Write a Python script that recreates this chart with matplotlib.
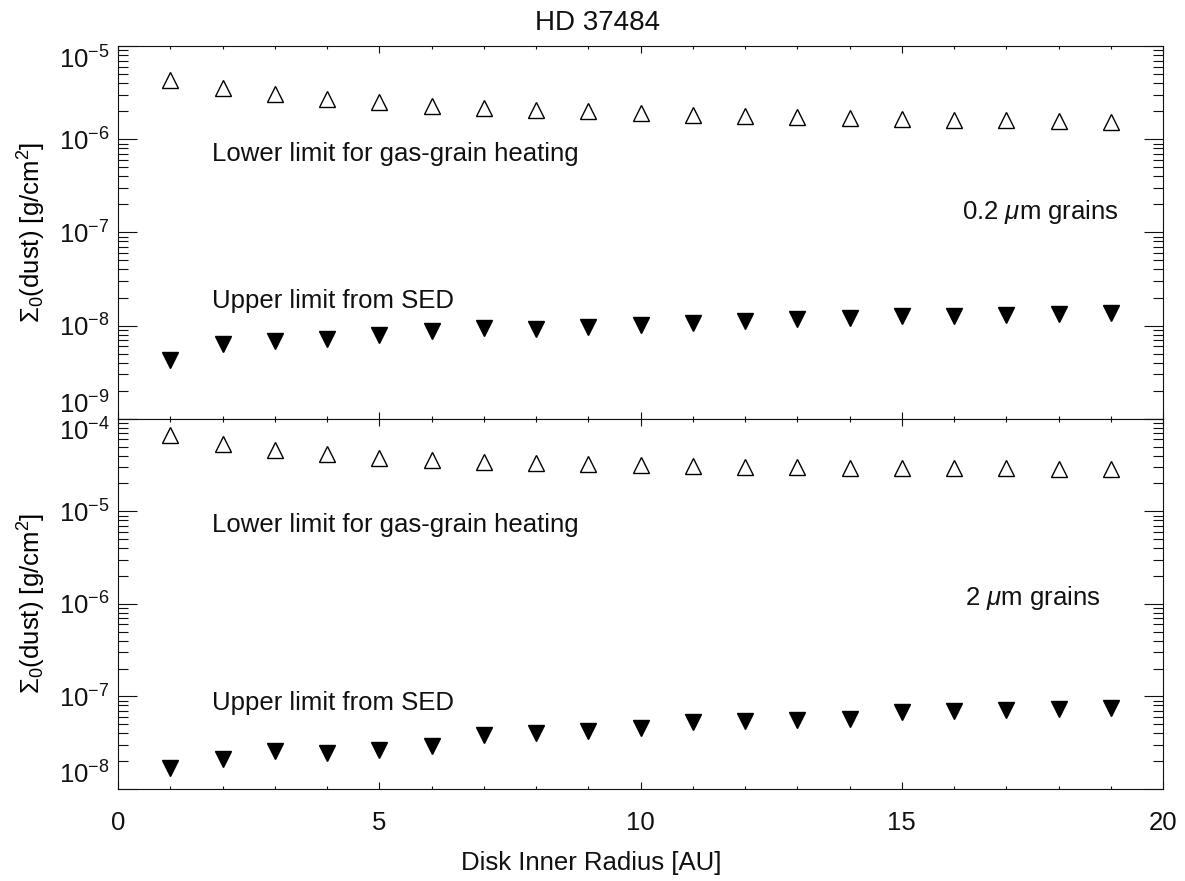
"""HD 37484: dust surface density limits vs disk inner radius."""
import matplotlib
matplotlib.use("Agg")
import matplotlib.pyplot as plt
import numpy as np
from matplotlib.ticker import FixedLocator, LogLocator, MultipleLocator, NullFormatter

plt.rcParams.update({
    "font.family": ["Liberation Sans", "DejaVu Sans"],
    "mathtext.fontset": "custom",
    "mathtext.rm": "Liberation Sans",
    "mathtext.it": "Liberation Sans:italic",
    "mathtext.bf": "Liberation Sans:bold",
    "text.color": "#111111",
})

# ---------------------------------------------------------------------------
# Data
# ---------------------------------------------------------------------------
radius_au = [1, 2, 3, 4, 5, 6, 7, 8, 9, 10, 11, 12, 13, 14, 15, 16, 17, 18, 19]

# 0.2 micron grains
lower_02um = [4.34e-6, 3.53e-6, 3.05e-6, 2.71e-6, 2.50e-6, 2.30e-6, 2.19e-6,
              2.05e-6, 1.99e-6, 1.90e-6, 1.84e-6, 1.78e-6, 1.72e-6, 1.68e-6,
              1.65e-6, 1.61e-6, 1.59e-6, 1.56e-6, 1.55e-6]
upper_02um = [4.29e-9, 6.28e-9, 6.81e-9, 7.25e-9, 8.0e-9, 8.84e-9, 9.5e-9,
              9.3e-9, 9.6e-9, 1.02e-8, 1.06e-8, 1.11e-8, 1.18e-8, 1.22e-8,
              1.26e-8, 1.26e-8, 1.30e-8, 1.34e-8, 1.38e-8]

# 2 micron grains
lower_2um = [6.72e-5, 5.31e-5, 4.56e-5, 4.14e-5, 3.81e-5, 3.61e-5, 3.45e-5,
             3.31e-5, 3.22e-5, 3.14e-5, 3.07e-5, 3.01e-5, 2.98e-5, 2.95e-5,
             2.92e-5, 2.92e-5, 2.92e-5, 2.89e-5, 2.90e-5]
upper_2um = [1.69e-8, 2.09e-8, 2.55e-8, 2.48e-8, 2.66e-8, 2.88e-8, 3.79e-8,
             4.06e-8, 4.27e-8, 4.51e-8, 5.30e-8, 5.40e-8, 5.56e-8, 5.74e-8,
             6.81e-8, 7.02e-8, 7.19e-8, 7.31e-8, 7.50e-8]

YLIM_TOP = (1e-9, 1e-5)
YLIM_BOT = (1e-8, 1e-4)
YLABEL = r"$\Sigma_0$(dust) [g/cm$^2$]"
FS = 18.5


def style_panel(ax, ylim, show_xlabels):
    ax.set_xlim(0, 20)
    ax.set_yscale("log")
    ax.set_ylim(*ylim)
    lo, hi = np.log10(ylim)
    ax.yaxis.set_major_locator(FixedLocator(10.0 ** np.arange(lo, hi + 1)))
    ax.yaxis.set_minor_locator(LogLocator(base=10, subs=np.arange(2, 10), numticks=20))
    ax.yaxis.set_minor_formatter(NullFormatter())
    ax.xaxis.set_major_locator(MultipleLocator(5))
    ax.xaxis.set_minor_locator(MultipleLocator(1))

    ax.tick_params(axis="both", which="both", direction="in",
                   top=True, right=True, width=0.8, colors="#111111",
                   labelsize=FS)
    ax.tick_params(axis="y", which="major", length=14, pad=6)
    ax.tick_params(axis="y", which="minor", length=7)
    ax.tick_params(axis="x", which="major", length=5, pad=16)
    ax.tick_params(axis="x", which="minor", length=2.5)
    if not show_xlabels:
        ax.tick_params(axis="x", labelbottom=False)
    for sp in ax.spines.values():
        sp.set_linewidth(0.8)
        sp.set_color("#111111")

    ax.set_ylabel(YLABEL, fontsize=FS)
    ax.yaxis.set_label_coords(-0.067, 0.5)

    # end labels shifted inward like the original
    ticks = ax.yaxis.get_major_ticks()
    ticks[0].label1.set_va("bottom")
    ticks[-1].label1.set_va("top")


fig = plt.figure(figsize=(11.85, 8.81), dpi=100)
ax_top = fig.add_axes([0.0996, 0.5247, 0.8819, 0.4230])
ax_bot = fig.add_axes([0.0996, 0.1044, 0.8819, 0.4203])

for ax, lower, upper, ylim, show in [
    (ax_top, lower_02um, upper_02um, YLIM_TOP, False),
    (ax_bot, lower_2um, upper_2um, YLIM_BOT, True),
]:
    ax.plot(radius_au, lower, linestyle="none", marker="^", markersize=11.5,
            markerfacecolor="none", markeredgecolor="black", markeredgewidth=1.0)
    ax.plot(radius_au, upper, linestyle="none", marker="v", markersize=11,
            markerfacecolor="black", markeredgecolor="black")
    style_panel(ax, ylim, show)

# annotations
ax_top.text(1.8, 5.9e-7, "Lower limit for gas-grain heating", fontsize=FS, va="baseline")
ax_top.text(1.8, 1.56e-8, "Upper limit from SED", fontsize=FS, va="baseline")
ax_top.text(19.15, 1.41e-7, r"0.2 $\mu$m grains", fontsize=FS, va="baseline", ha="right")

ax_bot.text(1.8, 6.0e-6, "Lower limit for gas-grain heating", fontsize=FS, va="baseline")
ax_bot.text(1.8, 7.2e-8, "Upper limit from SED", fontsize=FS, va="baseline")
ax_bot.text(18.8, 9.8e-7, r"2 $\mu$m grains", fontsize=FS, va="baseline", ha="right")

fig.text(0.504, 1 - 30 / 881, "HD 37484", fontsize=20, ha="center", va="baseline")
fig.text(0.499, 1 - 870 / 881, "Disk Inner Radius [AU]", fontsize=FS, ha="center", va="baseline")

fig.savefig("out.png", dpi=100)
